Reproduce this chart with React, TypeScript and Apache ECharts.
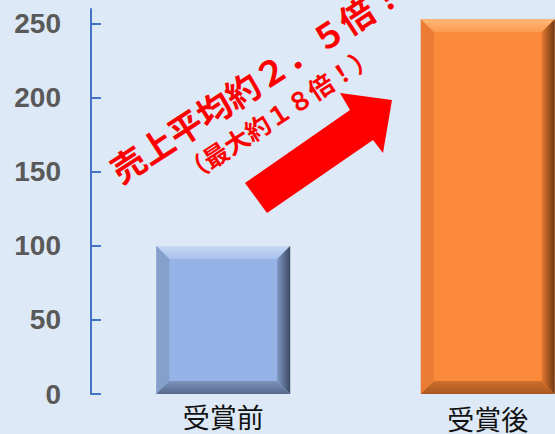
import React, { useEffect, useRef } from "react";
import * as echarts from "echarts";

const categories = ["受賞前", "受賞後"];
const values = [100, 253];
const yTicks = [0, 50, 100, 150, 200, 250];
const annotationMain = "売上平均約２．５倍！";
const annotationSub = "（最大約１８倍！）";

const barPalette = [
  { face: "#95b3e6", topA: "#c6d8f5", topB: "#a9c3ee", left: "#869fcb", rightA: "#7f97c2", rightB: "#3c4a63", bottomA: "#7d93bb", bottomB: "#56698c" },
  { face: "#fb8a3b", topA: "#ffb877", topB: "#fc9a4f", left: "#ea7c33", rightA: "#e57a30", rightB: "#6e3813", bottomA: "#cf6f2c", bottomB: "#a9571f" },
];

export default function App() {
  const ref = useRef<HTMLDivElement>(null);
  useEffect(() => {
    document.body.style.margin = "0";
    const chart = echarts.init(ref.current!, undefined, { renderer: "svg" });
    const deg = Math.PI / 180;
    chart.setOption({
      animation: false,
      backgroundColor: "#dde9f6",
      grid: { left: 91, top: 9, bottom: 40, width: 529, containLabel: false, outerBoundsMode: "none" },
      xAxis: {
        type: "category",
        data: categories,
        axisLine: { show: false },
        axisTick: { show: false },
        axisLabel: {
          margin: 9,
          formatter: (v: string, i: number) => (i === 0 ? `{a|${v}}` : `{b|${v}}`),
          rich: {
            a: { fontSize: 27, color: "#111", fontFamily: "Noto Sans CJK JP", lineHeight: 27 },
            b: { fontSize: 27, color: "#111", fontFamily: "Noto Sans CJK JP", lineHeight: 27, padding: [3, 0, 0, 0] },
          },
        },
      },
      yAxis: {
        type: "value",
        min: 0,
        max: 260,
        interval: 50,
        splitLine: { show: false },
        axisLine: { show: true, lineStyle: { color: "#4472c4", width: 2 } },
        axisTick: { show: true, inside: true, length: 10, customValues: yTicks, lineStyle: { color: "#4472c4", width: 2 } },
        axisLabel: {
          customValues: yTicks,
          margin: 30,
          fontSize: 28,
          fontWeight: "bold",
          color: "#595959",
          fontFamily: "Liberation Sans",
        },
      },
      series: [
        {
          type: "custom",
          data: values.map((v, i) => [i, v]),
          encode: { x: 0, y: 1 },
          renderItem: (params: any, api: any) => {
            const i = api.value(0);
            const v = api.value(1);
            const top = api.coord([i, v]);
            const base = api.coord([i, 0]);
            const band = api.size([1, 0])[0];
            const w = band * 0.506;
            const x0 = top[0] - w / 2;
            const x1 = top[0] + w / 2;
            const y0 = top[1];
            const y1 = base[1];
            const b = 13;
            const c = barPalette[params.dataIndex];
            const LG = echarts.graphic.LinearGradient;
            return {
              type: "group",
              children: [
                { type: "rect", shape: { x: x0, y: y0, width: w, height: y1 - y0 }, style: { fill: c.face } },
                {
                  type: "polygon",
                  shape: { points: [[x0, y0], [x1, y0], [x1 - b, y0 + b], [x0 + b, y0 + b]] },
                  style: { fill: new LG(0, 0, 0, 1, [{ offset: 0, color: c.topA }, { offset: 1, color: c.topB }]) },
                },
                {
                  type: "polygon",
                  shape: { points: [[x0, y0], [x0 + b, y0 + b], [x0 + b, y1 - b], [x0, y1]] },
                  style: { fill: c.left },
                },
                {
                  type: "polygon",
                  shape: { points: [[x1, y0], [x1, y1], [x1 - b, y1 - b], [x1 - b, y0 + b]] },
                  style: { fill: new LG(0, 0, 1, 0, [{ offset: 0, color: c.rightA }, { offset: 1, color: c.rightB }]) },
                },
                {
                  type: "polygon",
                  shape: { points: [[x0, y1], [x1, y1], [x1 - b, y1 - b], [x0 + b, y1 - b]] },
                  style: { fill: new LG(0, 0, 0, 1, [{ offset: 0, color: c.bottomA }, { offset: 1, color: c.bottomB }]) },
                },
              ],
            };
          },
        },
      ],
      graphic: [
        {
          type: "polygon",
          shape: { points: [[245, 183], [350, 110], [340, 93], [392, 100], [383, 153], [373, 140], [267, 213]] },
          style: { fill: "#ff0000" },
        },
        {
          type: "text",
          x: 256,
          y: 80,
          rotation: 33 * deg,
          style: {
            text: annotationMain,
            fontSize: 34,
            fontWeight: "bold",
            fontFamily: "Noto Sans CJK JP",
            fill: "#ff0000",
            align: "center",
            verticalAlign: "middle",
          },
        },
        {
          type: "text",
          x: 278,
          y: 113,
          rotation: 33 * deg,
          style: {
            text: annotationSub,
            fontSize: 25,
            fontWeight: "bold",
            fontFamily: "Noto Sans CJK JP",
            fill: "#ff0000",
            align: "center",
            verticalAlign: "middle",
          },
        },
      ],
    });
    return () => chart.dispose();
  }, []);
  return <div ref={ref} style={{ width: 555, height: 434 }} />;
}
